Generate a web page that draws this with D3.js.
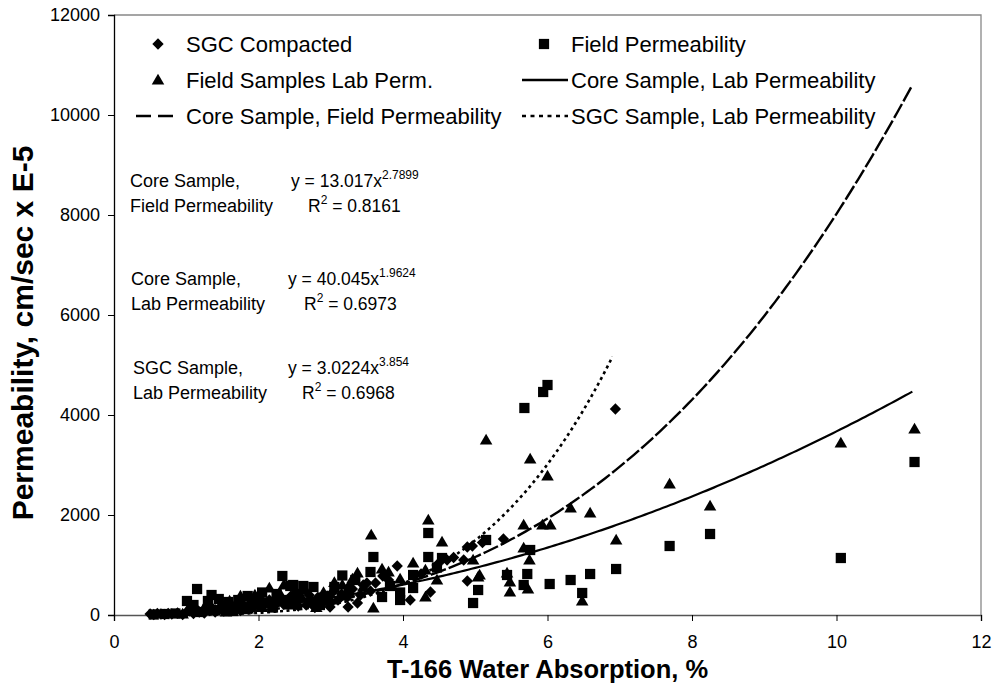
<!DOCTYPE html>
<html>
<head>
<meta charset="utf-8">
<script src="https://cdn.jsdelivr.net/npm/d3@7"></script>
<style>
  body { margin: 0; background: #fff; }
  svg text { font-family: "Liberation Sans", Arial, sans-serif; fill: #000; }
</style>
</head>
<body>
<div id="chart"></div>
<script>
// SGC Compacted (diamonds): [water absorption %, permeability]
const sgcCompacted = [
  [0.50, 20], [0.55, 10], [0.60, 30], [0.65, 20], [0.70, 10], [0.75, 30], [0.80, 20],
  [0.88, 40], [0.95, 10], [1.00, 50], [1.05, 80], [1.10, 30], [1.15, 100], [1.18, 60],
  [1.25, 40], [1.32, 90], [1.35, 150], [1.40, 60], [1.45, 120], [1.50, 180], [1.52, 80],
  [1.60, 110], [1.62, 200], [1.68, 140], [1.75, 90], [1.78, 220], [1.82, 160], [1.90, 130],
  [1.95, 260], [1.98, 200], [2.02, 320], [2.05, 170], [2.12, 230], [2.15, 300], [2.20, 190],
  [2.28, 260], [2.30, 350], [2.35, 210], [2.42, 300], [2.45, 380], [2.50, 250], [2.55, 180],
  [2.58, 320], [2.66, 200], [2.70, 400], [2.74, 280], [2.78, 150], [2.82, 350], [2.90, 260],
  [2.95, 380], [2.99, 160], [3.03, 460], [3.10, 300], [3.15, 420], [3.24, 160], [3.23, 360],
  [3.25, 560], [3.30, 520], [3.37, 240], [3.41, 400], [3.45, 600], [3.50, 640], [3.55, 480],
  [3.62, 640], [3.72, 780], [3.80, 700], [3.92, 980], [4.10, 300], [4.25, 820], [4.38, 460],
  [4.47, 1000], [4.61, 1100], [4.70, 1150], [4.84, 1100], [4.89, 1360], [4.89, 680],
  [4.96, 1380], [5.10, 1450], [5.39, 1520], [6.94, 4120]
];

// Field Permeability (squares)
const fieldPerm = [
  [0.55, 10], [0.70, 20], [0.85, 30], [1.01, 280], [1.10, 200], [1.15, 520], [1.20, 60],
  [1.30, 280], [1.35, 400], [1.40, 100], [1.45, 320], [1.50, 150], [1.58, 260], [1.65, 80],
  [1.72, 300], [1.80, 120], [1.85, 380], [1.90, 200], [2.00, 350], [2.05, 450], [2.10, 250],
  [2.20, 150], [2.25, 420], [2.33, 780], [2.40, 300], [2.44, 580], [2.48, 600], [2.55, 420],
  [2.62, 580], [2.70, 250], [2.76, 560], [2.85, 200], [2.90, 350], [3.05, 560], [3.16, 790],
  [3.25, 450], [3.34, 700], [3.55, 860], [3.59, 1160], [3.71, 360], [3.82, 580], [3.96, 450],
  [3.96, 300], [4.14, 800], [4.14, 540], [4.35, 1160], [4.35, 1640], [4.47, 950],
  [4.54, 1140], [4.97, 240], [5.04, 500], [5.15, 1500], [5.44, 800], [5.67, 600],
  [5.72, 820], [5.76, 1300], [5.68, 4140], [5.94, 4460], [6.00, 4600], [6.03, 620],
  [6.32, 700], [6.48, 440], [6.59, 820], [6.95, 920], [7.69, 1380], [8.25, 1620],
  [10.06, 1140], [11.08, 3060]
];

// Field Samples Lab Perm. (triangles)
const fieldLab = [
  [0.95, 20], [1.05, 180], [1.10, 80], [1.25, 150], [1.30, 260], [1.40, 100], [1.55, 60],
  [1.60, 280], [1.70, 180], [1.75, 380], [1.85, 120], [1.95, 400], [2.00, 250], [2.05, 150],
  [2.15, 540], [2.25, 300], [2.30, 420], [2.35, 600], [2.45, 200], [2.50, 450], [2.60, 350],
  [2.65, 500], [2.80, 150], [2.90, 450], [3.00, 300], [3.05, 650], [3.16, 600], [3.20, 380],
  [3.30, 720], [3.37, 840], [3.45, 560], [3.56, 1600], [3.59, 140], [3.71, 920], [3.80, 860],
  [3.96, 720], [4.14, 1040], [4.31, 900], [4.31, 360], [4.35, 1900], [4.47, 700],
  [4.54, 1460], [4.97, 1100], [5.04, 760], [5.06, 800], [5.15, 3500], [5.44, 840],
  [5.48, 660], [5.48, 460], [5.67, 1800], [5.67, 1340], [5.73, 520], [5.75, 1100],
  [5.76, 3120], [5.93, 1800], [6.00, 2780], [6.04, 1800], [6.32, 2140], [6.48, 280],
  [6.59, 2040], [6.95, 1500], [7.69, 2620], [8.25, 2180], [10.06, 3440], [11.08, 3720]
];

// power trendlines y = a * x^b, as printed on the chart: [a, b, xmin, xmax]
const trendCoreField = [13.017, 2.7899, 0.5, 11.08];
const trendCoreLab = [40.045, 1.9624, 0.9, 11.08];
const trendSgcLab = [3.0224, 3.854, 0.5, 6.94];

const xTicks = [0, 2, 4, 6, 8, 10, 12];
const yTicks = [0, 2000, 4000, 6000, 8000, 10000, 12000];

const width = 992, height = 687;
const margin = {top: 15, right: 11, bottom: 72, left: 114};

const svg = d3.select("#chart").append("svg")
  .attr("width", width)
  .attr("height", height);

const x = d3.scaleLinear().domain([0, 12]).range([margin.left, width - margin.right]);
const y = d3.scaleLinear().domain([0, 12000]).range([height - margin.bottom, margin.top]);

// plot frame (top + right in grey)
svg.append("path")
  .attr("d", `M${x(0)},${y(12000)}H${x(12)}V${y(0)}`)
  .attr("fill", "none")
  .attr("stroke", "#888")
  .attr("stroke-width", 1.3);

// axes
const xAxis = svg.append("g")
  .attr("transform", `translate(0,${y(0)})`)
  .call(d3.axisBottom(x).tickValues(xTicks).tickSize(6).tickPadding(14));
xAxis.select(".domain").attr("stroke", "#555").attr("stroke-width", 1.5);
xAxis.selectAll("text").style("font-size", "18px").style("font-family", "Liberation Sans, Arial");

const yAxis = svg.append("g")
  .attr("transform", `translate(${x(0)},0)`)
  .call(d3.axisLeft(y).tickValues(yTicks).tickSize(6).tickPadding(8).tickFormat(d3.format("d")));
yAxis.select(".domain").attr("stroke", "#000").attr("stroke-width", 1.3);
yAxis.selectAll("text").style("font-size", "18px").style("font-family", "Liberation Sans, Arial");

// axis titles
svg.append("text")
  .attr("x", (x(0) + x(12)) / 2)
  .attr("y", 678)
  .attr("text-anchor", "middle")
  .style("font-size", "25.5px")
  .style("font-weight", "bold")
  .text("T-166 Water Absorption, %");

svg.append("text")
  .attr("transform", `translate(33,${(y(0) + y(12000)) / 2 + 18}) rotate(-90)`)
  .attr("text-anchor", "middle")
  .style("font-size", "30px")
  .style("font-weight", "bold")
  .text("Permeability, cm/sec x E-5");

// markers
const diamond = d3.symbol().type(d3.symbolSquare).size(64)();
const square = d3.symbol().type(d3.symbolSquare).size(105)();
const triangle = d3.symbol().type(d3.symbolTriangle).size(68)();

svg.append("g").selectAll("path")
  .data(sgcCompacted)
  .join("path")
    .attr("d", diamond)
    .attr("transform", d => `translate(${x(d[0])},${y(d[1])}) rotate(45)`)
    .attr("fill", "#000");

svg.append("g").selectAll("path")
  .data(fieldPerm)
  .join("path")
    .attr("d", square)
    .attr("transform", d => `translate(${x(d[0])},${y(d[1])})`)
    .attr("fill", "#000");

svg.append("g").selectAll("path")
  .data(fieldLab)
  .join("path")
    .attr("d", triangle)
    .attr("transform", d => `translate(${x(d[0])},${y(d[1]) + 1})`)
    .attr("fill", "#000");

// trendlines (on top of the markers)
const line = d3.line().x(d => x(d[0])).y(d => y(d[1]));
function trendPoints(t) {
  return d3.range(t[2], t[3] + 0.001, 0.05).map(v => [v, t[0] * Math.pow(v, t[1])]);
}
svg.append("path")
  .attr("d", line(trendPoints(trendCoreLab)))
  .attr("fill", "none").attr("stroke", "#000").attr("stroke-width", 2.2);
svg.append("path")
  .attr("d", line(trendPoints(trendCoreField)))
  .attr("fill", "none").attr("stroke", "#000").attr("stroke-width", 2.4)
  .attr("stroke-dasharray", "16,3");
svg.append("path")
  .attr("d", line(trendPoints(trendSgcLab)))
  .attr("fill", "none").attr("stroke", "#000").attr("stroke-width", 2.6)
  .attr("stroke-dasharray", "3,3.5");

// legend
const legendFont = "22px";
const leg = svg.append("g");
const legendRows = [
  {col: 0, row: 0, kind: "diamond", label: "SGC Compacted"},
  {col: 0, row: 1, kind: "triangle", label: "Field Samples Lab Perm."},
  {col: 0, row: 2, kind: "dashed", label: "Core Sample, Field Permeability"},
  {col: 1, row: 0, kind: "square", label: "Field Permeability"},
  {col: 1, row: 1, kind: "solid", label: "Core Sample, Lab Permeability"},
  {col: 1, row: 2, kind: "dotted", label: "SGC Sample, Lab Permeability"}
];
legendRows.forEach(r => {
  const cy = 44 + r.row * 36;
  const x0 = r.col === 0 ? 136 : 522;
  const tx = r.col === 0 ? 186 : 571;
  const g = leg.append("g");
  if (r.kind === "diamond") {
    g.append("path").attr("d", diamond).attr("transform", `translate(${x0 + 22},${cy}) rotate(45)`);
  } else if (r.kind === "square") {
    g.append("path").attr("d", square).attr("transform", `translate(${x0 + 22},${cy})`);
  } else if (r.kind === "triangle") {
    g.append("path").attr("d", triangle).attr("transform", `translate(${x0 + 22},${cy + 1})`);
  } else {
    const len = r.col === 0 ? 41 : 46;
    g.append("line")
      .attr("x1", x0).attr("x2", x0 + len).attr("y1", cy).attr("y2", cy)
      .attr("stroke", "#000")
      .attr("stroke-width", r.kind === "dotted" ? 2.6 : 2.4)
      .attr("stroke-dasharray", r.kind === "dashed" ? "15,7" : r.kind === "dotted" ? "4,4.5" : null);
  }
  g.append("text")
    .attr("x", tx)
    .attr("y", cy + 8)
    .style("font-size", legendFont)
    .text(r.label);
});

// trendline annotations
const notes = [
  {lx: 130, ly: 187, lines: ["Core Sample,", "Field Permeability"], ex: 291, eq: "13.017", pow: "2.7899", rx: 308, r2: "0.8161"},
  {lx: 131, ly: 285, lines: ["Core Sample,", "Lab Permeability"], ex: 288, eq: "40.045", pow: "1.9624", rx: 304, r2: "0.6973"},
  {lx: 133, ly: 374, lines: ["SGC Sample,", "Lab Permeability"], ex: 288, eq: "3.0224", pow: "3.854", rx: 302, r2: "0.6968"}
];
notes.forEach(n => {
  n.lines.forEach((t, i) => {
    svg.append("text")
      .attr("x", n.lx)
      .attr("y", n.ly + i * 25)
      .style("font-size", "18px")
      .text(t);
  });
  const e = svg.append("text").attr("x", n.ex).attr("y", n.ly).style("font-size", "17.5px");
  e.append("tspan").text(`y = ${n.eq}x`);
  e.append("tspan").attr("dy", -8).style("font-size", "12px").text(n.pow);
  const r = svg.append("text").attr("x", n.rx).attr("y", n.ly + 25).style("font-size", "17.5px");
  r.append("tspan").text("R");
  r.append("tspan").attr("dy", -8).style("font-size", "12px").text("2");
  r.append("tspan").attr("dy", 8).text(` = ${n.r2}`);
});
</script>
</body>
</html>
